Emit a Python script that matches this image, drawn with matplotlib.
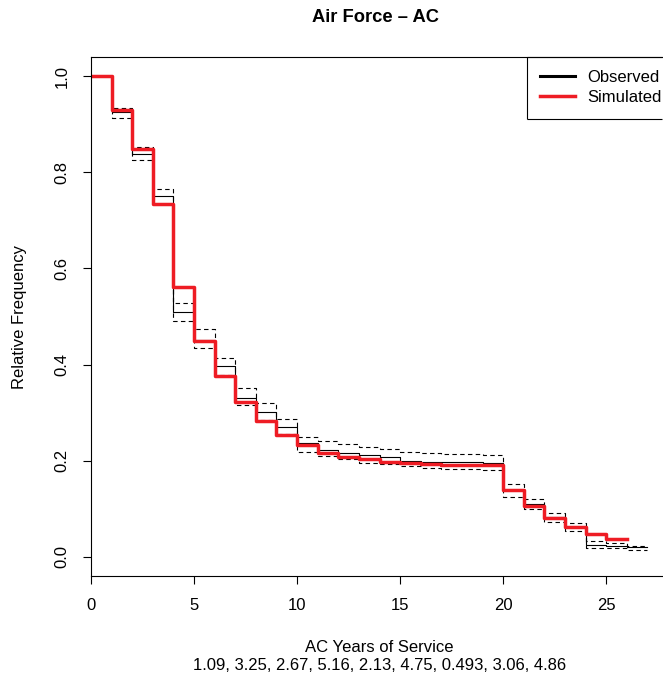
import numpy as np
import matplotlib
matplotlib.use("Agg")
import matplotlib.pyplot as plt
from matplotlib.lines import Line2D

plt.rcParams['font.family'] = ['Liberation Sans', 'DejaVu Sans']

# observed curve and its band, one value per year interval starting at 0
years_obs = np.arange(0, 28)
observed = [1.0, 0.926, 0.839, 0.750, 0.509, 0.451, 0.396, 0.330, 0.302, 0.270,
            0.236, 0.222, 0.216, 0.212, 0.207, 0.200, 0.197, 0.197, 0.197, 0.196,
            0.138, 0.110, 0.082, 0.062, 0.025, 0.023, 0.020]
obs_upper = [1.0, 0.934, 0.853, 0.766, 0.529, 0.473, 0.414, 0.351, 0.321, 0.286,
             0.250, 0.241, 0.234, 0.228, 0.225, 0.218, 0.216, 0.214, 0.214, 0.212,
             0.151, 0.121, 0.092, 0.071, 0.032, 0.028, 0.023]
obs_lower = [1.0, 0.914, 0.825, 0.734, 0.490, 0.435, 0.378, 0.315, 0.284, 0.255,
             0.217, 0.210, 0.203, 0.196, 0.193, 0.189, 0.184, 0.182, 0.182, 0.181,
             0.125, 0.099, 0.072, 0.054, 0.019, 0.018, 0.015]

# simulated curve
years_sim = np.arange(0, 27)
simulated = [1.0, 0.929, 0.848, 0.734, 0.562, 0.448, 0.376, 0.322, 0.283, 0.254,
             0.233, 0.216, 0.208, 0.204, 0.198, 0.195, 0.193, 0.191, 0.191, 0.190,
             0.138, 0.105, 0.080, 0.062, 0.048, 0.037]

params = "1.09, 3.25, 2.67, 5.16, 2.13, 4.75, 0.493, 3.06, 4.86"
xticks = [0, 5, 10, 15, 20, 25]
yticks = [0.0, 0.2, 0.4, 0.6, 0.8, 1.0]

W, H = 663, 681
fig = plt.figure(figsize=(W / 100, H / 100), dpi=100)
ax = fig.add_axes([91 / W, (H - 576) / H, (668 - 91) / W, (576 - 57) / H])

def stepline(xs, vals, **kw):
    ax.step(xs, list(vals) + [vals[-1]], where='post', **kw)

stepline(years_obs, obs_upper, color='black', lw=0.8, ls=(0, (4, 3)))
stepline(years_obs, obs_lower, color='black', lw=0.8, ls=(0, (4, 3)))
stepline(years_obs, observed, color='black', lw=0.8)
stepline(years_sim, simulated, color='#ee1c24', lw=2.5)

ax.set_xlim(0, 28)
ax.set_ylim(-0.04, 1.04)
ax.set_xticks(xticks)
ax.set_yticks(yticks)
ax.set_xticklabels([str(t) for t in xticks])
ax.set_yticklabels(["%.1f" % t for t in yticks], rotation=90, va='center')
ax.tick_params(axis='both', direction='out', length=6, width=0.8, labelsize=12)
ax.tick_params(axis='x', pad=10)
ax.tick_params(axis='y', pad=9.5)
for s in ax.spines.values():
    s.set_linewidth(0.8)

handles = [Line2D([], [], color='black', lw=2.2),
           Line2D([], [], color='#ee1c24', lw=2.5)]
leg = ax.legend(handles, ['Observed', 'Simulated'], loc='upper left',
                bbox_to_anchor=((527 - 91) / 577, 1.0),
                borderaxespad=0, frameon=False,
                fontsize=12, handlelength=2.1, handletextpad=0.7,
                labelspacing=0.3, borderpad=0.8)

# legend box runs off the right edge, so draw only its left/top/bottom sides
fig.canvas.draw()
bb = leg.get_window_extent().transformed(fig.transFigure.inverted())
for ys in ([bb.y1, bb.y1], [bb.y0, bb.y0]):
    fig.add_artist(Line2D([bb.x0, 0.999], ys, transform=fig.transFigure,
                          color='black', lw=0.8, solid_capstyle='butt'))
fig.add_artist(Line2D([bb.x0, bb.x0], [bb.y0, bb.y1], transform=fig.transFigure,
                      color='black', lw=0.8, solid_capstyle='butt'))

cx = (91 + 668) / 2 / W
fig.text(376 / W, 1 - 18 / H, "Air Force \u2013 AC", ha='center', va='center',
         fontsize=13.2, fontweight='bold')
fig.text(cx, 1 - 647 / H, "AC Years of Service", ha='center', va='center', fontsize=12)
fig.text(cx, 1 - 666 / H, params, ha='center', va='center', fontsize=12)
fig.text(20 / W, 1 - 317 / H, "Relative Frequency", ha='center', va='center',
         rotation=90, fontsize=12)

fig.savefig("out.png", dpi=100)
